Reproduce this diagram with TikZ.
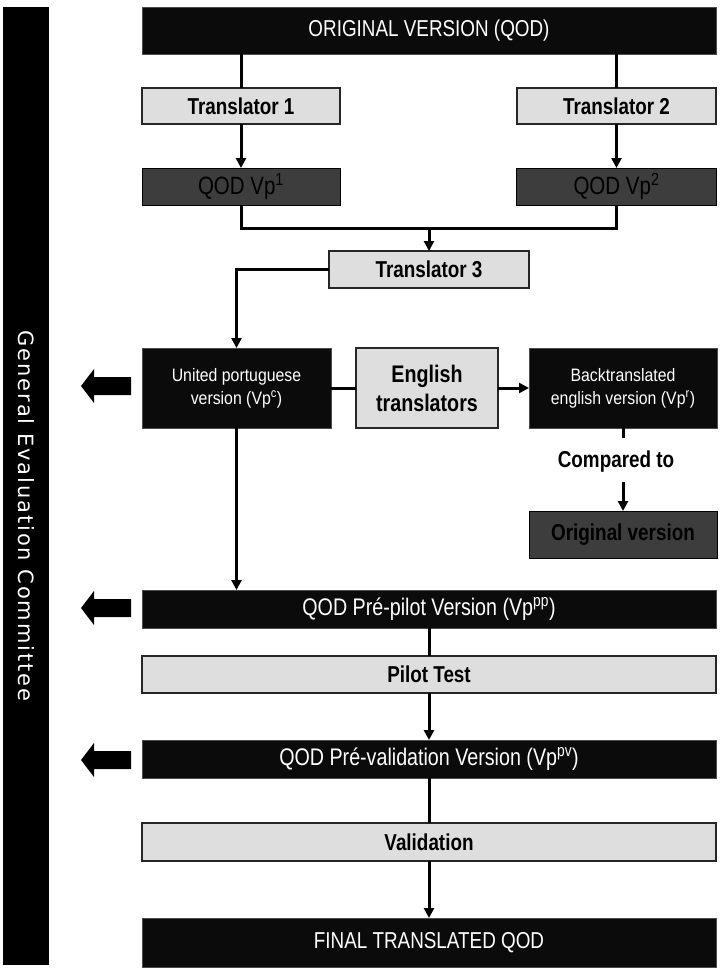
\documentclass[tikz,border=0pt]{standalone}
\usepackage{fontspec}
\setmainfont{Liberation Sans}[FakeStretch=0.82]
\newfontfamily\sidefont{DejaVu Sans}[LetterSpace=9]
\newfontfamily\humfont{Liberation Sans}[FakeStretch=0.88]
\usetikzlibrary{arrows.meta}
\definecolor{blk}{HTML}{0B0B0B}
\definecolor{dgray}{HTML}{3D3D3D}
\definecolor{lgray}{HTML}{DEDEDE}
\tikzset{
  box/.style={rectangle, inner sep=0pt, outer sep=0pt, align=center},
  blackbox/.style={box, fill=blk, draw=black!70, line width=0.6pt, text=white, font=\fontsize{23}{26}\selectfont},
  darkbox/.style={box, fill=dgray, draw=black, line width=1pt, text=black, font=\fontsize{25}{27}\selectfont},
  lightbox/.style={box, fill=lgray, draw=black!85, line width=1.3pt, text=black, font=\bfseries\fontsize{23}{26}\selectfont},
  conn/.style={line width=3pt, draw=black},
  arr/.style={conn, -{Triangle[length=10pt,width=10pt]}},
  blockarrow/.style={fill=black}
}
\begin{document}
\begin{tikzpicture}[x=1pt,y=-1pt]
\useasboundingbox (0,0) rectangle (722,979);
\fill[white] (0,0) rectangle (722,979);

% side bar
\node[box, fill=black, minimum width=46pt, minimum height=958pt] (bar) at (26,486) {};
\node[rotate=-90, text=white, font=\sidefont\fontsize{21}{23}\selectfont] (barlabel) at (26,516) {General Evaluation Committee};

% boxes
\node[blackbox, minimum width=574pt, minimum height=47pt] (top) at (429,30.5) {ORIGINAL VERSION (QOD)};
\node[lightbox, minimum width=198pt, minimum height=36pt] (t1) at (241,106) {Translator 1};
\node[lightbox, minimum width=199pt, minimum height=36pt] (t2) at (616.5,106) {Translator 2};
\node[darkbox, minimum width=198pt, minimum height=37pt] (q1) at (241,186.5) {QOD Vp\textsuperscript{1}};
\node[darkbox, minimum width=200pt, minimum height=37pt] (q2) at (616.5,186.5) {QOD Vp\textsuperscript{2}};
\node[lightbox, minimum width=200pt, minimum height=37pt] (t3) at (429,269.5) {Translator 3};

\node[blackbox, minimum width=189pt, minimum height=80pt, font=\humfont\fontsize{18}{23}\selectfont] (united) at (236.5,388) {United portuguese\\version (Vp\textsuperscript{c})};
\node[lightbox, minimum width=142pt, minimum height=80pt, font=\bfseries\fontsize{24}{29}\selectfont] (english) at (427,388) {English\\translators};
\node[blackbox, minimum width=188pt, minimum height=80pt, font=\humfont\fontsize{18}{23}\selectfont] (back) at (623,388) {Backtranslated\\english version (Vp\textsuperscript{r})};
\node[box, font=\bfseries\fontsize{23}{26}\selectfont] (cmp) at (616,462) {Compared to};
\node[darkbox, minimum width=188pt, minimum height=47pt, font=\bfseries\fontsize{23}{26}\selectfont] (orig) at (623,534.5) {Original version};

\node[blackbox, minimum width=574pt, minimum height=38pt, font=\fontsize{24}{26}\selectfont] (prepilot) at (429,609) {QOD Pré-pilot Version (Vp\textsuperscript{pp})};
\node[lightbox, minimum width=574pt, minimum height=37pt] (pilot) at (429,674.5) {Pilot Test};
\node[blackbox, minimum width=574pt, minimum height=38pt, font=\fontsize{24}{26}\selectfont] (prevalid) at (429,759) {QOD Pré-validation Version (Vp\textsuperscript{pv})};
\node[lightbox, minimum width=574pt, minimum height=38pt] (valid) at (429,842) {Validation};
\node[blackbox, minimum width=574pt, minimum height=49pt] (final) at (429,942.5) {FINAL TRANSLATED QOD};

% connectors
\draw[conn] (t1.north) -- (t1.north |- top.south);
\draw[conn] (t2.north) -- (t2.north |- top.south);
\draw[arr] (t1.south) -- (q1.north);
\draw[arr] (t2.south) -- (q2.north);
\coordinate (mj) at (429,228);
\draw[conn] (q1.south) |- (mj) -| (q2.south);
\draw[arr] (mj) -- (t3.north);
\draw[arr] (t3.west) -| (united.north);
\draw[conn] (united.east) -- (english.west);
\draw[arr] (english.east) -- (back.west);
\coordinate (bk) at ([yshift=-10pt]back.south);
\draw[conn] (back.south) -- (bk);
\coordinate (ca) at ([yshift=-9pt]cmp.south -| orig.north);
\draw[arr] (ca) -- (orig.north);
\draw[arr] (united.south) -- (united.south |- prepilot.north);
\draw[conn] (prepilot.south) -- (pilot.north);
\draw[arr] (pilot.south) -- (prevalid.north);
\draw[conn] (prevalid.south) -- (valid.north);
\draw[arr] (valid.south) -- (final.north);

% block arrows toward the committee
\foreach \yy in {386,608,760}{
  \fill[blockarrow] (81,\yy) -- (94,\yy-17) -- (94,\yy-9) -- (131,\yy-9) -- (131,\yy+9) -- (94,\yy+9) -- (94,\yy+17) -- cycle;
}
\end{tikzpicture}
\end{document}
